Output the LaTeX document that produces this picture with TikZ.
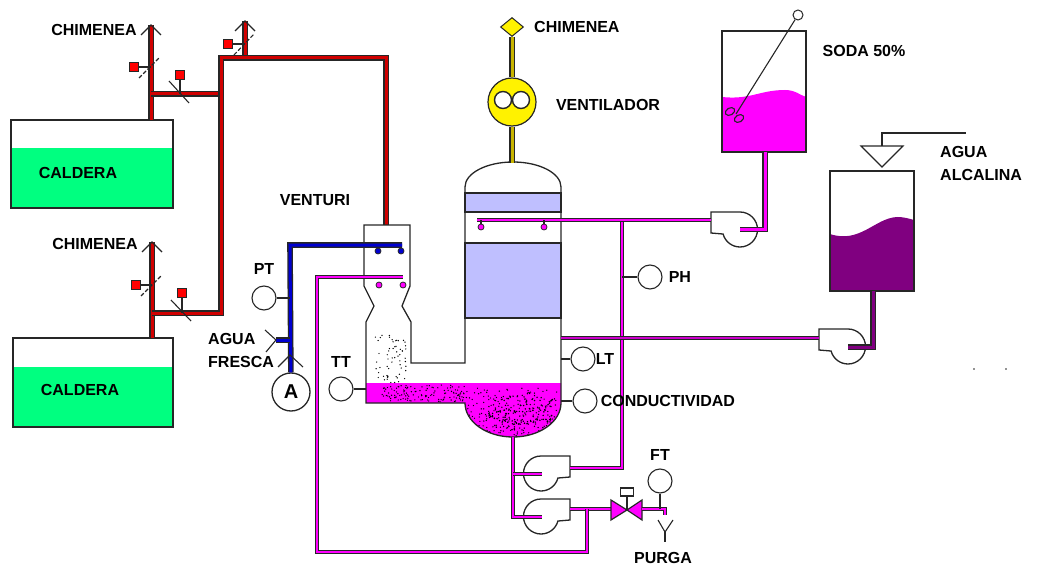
\documentclass[tikz,border=0pt]{standalone}
\usepackage{fontspec}
\setmainfont{Liberation Sans}
\usetikzlibrary{positioning,shapes.geometric}
\definecolor{linea}{HTML}{262626}
\definecolor{verde}{HTML}{00FF80}
\definecolor{lila}{HTML}{BFBFFF}
\definecolor{rosa}{HTML}{FF00FF}
\definecolor{morado}{HTML}{800080}
\definecolor{rojo}{HTML}{D00000}
\definecolor{azul}{HTML}{0000D0}
\definecolor{oliva}{HTML}{C8B400}
\tikzset{
  tag/.style={font=\bfseries\fontsize{16}{23}\selectfont, inner sep=0pt, align=left},
  vessel/.style={draw=linea, line width=1.3pt},
  thinline/.style={draw=linea, line width=1.1pt},
  instr/.style={circle, draw=linea, line width=1.1pt, fill=white, minimum size=24pt, inner sep=0pt},
  pipe/.style={draw=linea, line width=1.3pt, double=#1, double distance=3pt},
  thinpipe/.style={draw=linea, line width=1.3pt, double=#1, double distance=1.8pt},
  actuator/.style={rectangle, draw=linea, line width=1.2pt, fill=red, minimum size=9pt, inner sep=0pt},
  nozzle/.style={circle, draw=linea, line width=.8pt, fill=#1, minimum size=6pt, inner sep=0pt},
  pump/.pic={
    \draw[vessel, fill=white] (-29,-17.5) -- (0,-17.5) arc[start angle=-90, end angle=165, radius=17.5] -- (-29,3.5) -- cycle;
    \coordinate (-eje) at (0,0);
    \coordinate (-boca) at (-29,-9);
  },
}

\begin{document}
\begin{tikzpicture}[x=1pt, y=-1pt]
  \useasboundingbox (0,0) rectangle (1037,567);

  % calderas
  \fill[verde] (11,148) rectangle (173,208);
  \fill[verde] (13,367) rectangle (173,427);
  \node[vessel, minimum width=162pt, minimum height=88pt, inner sep=0pt] (caldera1) at (92,164) {};
  \node[vessel, minimum width=160pt, minimum height=89pt, inner sep=0pt] (caldera2) at (93,382.5) {};
  \node[tag] (caldtext1) at (78,173) {CALDERA};
  \node[tag] (caldtext2) at (80,390) {CALDERA};

  % humos
  \coordinate (salida1) at (151,120);
  \coordinate (salida2) at (152,338);
  \coordinate (tope1) at (151,25);
  \coordinate (tope2) at (152,242);
  \coordinate (tope3) at (245,21);
  \coordinate (codo1) at (221,94);
  \coordinate (codo2) at (221,313);
  \coordinate (codo3) at (221,58);
  \coordinate (codo4) at (386,58);
  \coordinate (entrada) at (386,225);
  \path[pipe=rojo] (salida1) -- (tope1);
  \path[pipe=rojo] (salida2) -- (tope2);
  \path[pipe=rojo] (codo3 -| tope3) -- (tope3);
  \path[pipe=rojo] (salida1 |- codo1) -- (codo1);
  \path[pipe=rojo] (salida2 |- codo2) -- (codo2) -- (codo3) -- (codo4) -- (entrada);
  \draw[thinline] ([xshift=-10pt, yshift=-10pt]tope1) -- (tope1) -- ([xshift=10pt, yshift=-10pt]tope1);
  \draw[thinline] ([xshift=-10pt, yshift=-10pt]tope2) -- (tope2) -- ([xshift=10pt, yshift=-10pt]tope2);
  \draw[thinline] ([xshift=-10pt, yshift=-10pt]tope3) -- (tope3) -- ([xshift=10pt, yshift=-10pt]tope3);

  % compuertas
  \node[actuator] (comp1) at (134,67) {};
  \node[actuator] (comp2) at (180,75) {};
  \node[actuator] (comp3) at (228,44) {};
  \node[actuator] (comp4) at (136,285) {};
  \node[actuator] (comp5) at (182,293) {};
  \draw[thinline] (comp1) -- (comp1 -| tope1);
  \draw[thinline] (comp2) -- (comp2 |- codo1);
  \draw[thinline] (comp3) -- (comp3 -| tope3);
  \draw[thinline] (comp4) -- (comp4 -| tope2);
  \draw[thinline] (comp5) -- (comp5 |- codo2);
  \draw[thinline, dash pattern=on 4pt off 2pt] (139,78) -- (160,57);
  \draw[thinline] (169,81) -- (189,103);
  \draw[thinline, dash pattern=on 4pt off 2pt] (234,55) -- (254,34);
  \draw[thinline, dash pattern=on 4pt off 2pt] (141,296) -- (161,276);
  \draw[thinline] (171,300) -- (191,321);

  % liquido y particulas
  \fill[rosa] (366,383) -- (561,383) -- (561,403) arc[start angle=0, end angle=180, x radius=48, y radius=34] -- (366,403) -- cycle;
  \begin{scope}
    \clip (366,383) -- (561,383) -- (561,403) arc[start angle=0, end angle=180, x radius=48, y radius=34] -- (366,403) -- cycle;
    \pgfmathsetseed{2903}
    \foreach \i in {1,...,130} {
      \pgfmathsetmacro\px{382+85*rnd}
      \pgfmathsetmacro\py{385+17*rnd}
      \fill[black] (\px,\py) circle (.7);
    }
    \foreach \i in {1,...,230} {
      \pgfmathsetmacro\px{467+92*rnd}
      \pgfmathsetmacro\py{388+48*rnd}
      \fill[black] (\px,\py) circle (.7);
    }
    \foreach \i in {1,...,110} {
      \pgfmathsetmacro\px{488+66*rnd}
      \pgfmathsetmacro\py{396+32*rnd}
      \fill[black] (\px,\py) circle (.8);
    }
  \end{scope}
  \foreach \i in {1,...,60} {
    \pgfmathsetmacro\px{375+31*rnd}
    \pgfmathsetmacro\py{335+48*rnd}
    \fill[black] (\px,\py) circle (.7);
  }

  % lavador
  \path[vessel, fill=lila] (465,193) rectangle (561,212);
  \path[vessel, fill=lila] (465,243) rectangle (561,318);
  \draw[vessel] (364,286) -- (364,225) -- (410,225) -- (410,286) -- (402,306) -- (411,322) -- (411,363) -- (465,363) -- (465,187)
    arc[start angle=180, end angle=360, x radius=48, y radius=25] -- (561,403)
    arc[start angle=0, end angle=180, x radius=48, y radius=34] -- (366,403) -- (366,322) -- (374,306) -- cycle;

  % ventilador
  \node[diamond, draw=linea, line width=1pt, fill=yellow, minimum width=23pt, minimum height=19pt, inner sep=0pt] (chimenea) at (512,27) {};
  \node[circle, draw=linea, line width=1.2pt, fill=yellow, minimum size=48pt, inner sep=0pt] (ventilador) at (512,102) {};
  \coordinate (cuello) at (512,163);
  \path[pipe=oliva] (cuello) -- (ventilador);
  \path[pipe=oliva] (ventilador) -- (chimenea);
  \node[circle, draw=linea, line width=1.4pt, fill=white, minimum size=17pt, inner sep=0pt] (aspa1) at (503,100) {};
  \node[circle, draw=linea, line width=1.4pt, fill=white, minimum size=17pt, inner sep=0pt] (aspa2) at (521,100) {};

  % tanques
  \fill[rosa] (722,97) .. controls (750,100) and (760,90) .. (785,90) .. controls (795,90) and (800,95) .. (806,97) -- (806,152) -- (722,152) -- cycle;
  \fill[morado] (830,234) .. controls (860,244) and (875,218) .. (897,217) .. controls (905,217) and (910,219) .. (914,220) -- (914,291) -- (830,291) -- cycle;
  \node[vessel, minimum width=84pt, minimum height=121pt, inner sep=0pt] (soda) at (764,91.5) {};
  \node[vessel, minimum width=84pt, minimum height=120pt, inner sep=0pt] (alcalina) at (872,231) {};
  \coordinate (embudoizq) at (861,146);
  \coordinate (embudoder) at (903,146);
  \coordinate (embudopie) at (882,167);
  \draw[thinline] (embudoizq) -- (embudoder) -- (embudopie) -- cycle;
  \coordinate (codoagua) at (882,133);
  \coordinate (finagua) at (966,133);
  \draw[thinline] (embudopie |- embudoizq) -- (codoagua) -- (finagua);

  % agitador
  \node[circle, draw=linea, line width=1pt, minimum size=10pt, inner sep=0pt] (motor) at (798,15) {};
  \coordinate (eje) at (736,114);
  \draw[thinline] (motor) -- (eje);
  \draw[thinline, rotate around={30:(730,111.5)}] (730,111.5) ellipse (5 and 3.5);
  \draw[thinline, rotate around={30:(739,118.5)}] (739,118.5) ellipse (5 and 3.5);

  % bombas
  \pic (bombasoda) at (740,229.5) {pump};
  \pic (bombaalc) at (848,346.5) {pump};
  \pic[xscale=-1] (bomba1) at (541,473.5) {pump};
  \pic[xscale=-1] (bomba2) at (541,516.5) {pump};

  % lineas de proceso
  \coordinate (rociador) at (477,220);
  \coordinate (ramal) at (622,220);
  \coordinate (ramalbajo) at (622,468);
  \coordinate (fondo) at (513,437);
  \coordinate (codob1) at (513,474);
  \coordinate (codob2) at (513,517);
  \coordinate (finb1) at (542,474);
  \coordinate (finb2) at (542,517);
  \coordinate (retorno) at (587,509);
  \coordinate (retbajo) at (587,552);
  \coordinate (retizq) at (317,552);
  \coordinate (retalto) at (317,277);
  \coordinate (retfin) at (403,277);
  \coordinate (paredder) at (561,338);
  \coordinate (alcsale) at (873,291);
  \coordinate (alccodo) at (873,347);
  \coordinate (sodasale) at (765,152);
  \coordinate (sodacodo) at (765,229.5);
  \coordinate (valizq) at (611,509);
  \coordinate (valder) at (642,509);
  \path[thinpipe=rosa] (bomba1-boca |- ramalbajo) -- (ramalbajo) -- (ramal);
  \path[pipe=morado] (alcsale) -- (alccodo) -- (bombaalc-eje |- alccodo);
  \path[thinpipe=rosa!60!morado] (paredder) -- (bombaalc-boca |- paredder);
  \path[pipe=rosa] (sodasale) -- (sodacodo) -- (bombasoda-eje);
  \path[thinpipe=rosa] (rociador) -- (bombasoda-boca |- rociador);
  \path[thinpipe=rosa] (fondo) -- (codob2) -- (finb2);
  \path[thinpipe=rosa] (codob1) -- (finb1);
  \path[thinpipe=rosa] (bomba2-boca |- retorno) -- (valizq);
  \path[thinpipe=rosa] (retorno) -- (retbajo) -- (retizq) -- (retalto) -- (retfin);

  % boquillas
  \node[nozzle=rosa] (boq1) at (481,227) {};
  \node[nozzle=rosa] (boq2) at (544,227) {};
  \node[nozzle=rosa] (boq3) at (379,285) {};
  \node[nozzle=rosa] (boq4) at (403,285) {};
  \node[nozzle=azul] (boq5) at (378,251) {};
  \node[nozzle=azul] (boq6) at (401,251) {};
  \draw[thinline] (boq1) -- (boq1 |- rociador);
  \draw[thinline] (boq2) -- (boq2 |- rociador);

  % agua fresca
  \node[circle, vessel, minimum size=38pt, inner sep=0pt, font=\bfseries\fontsize{20}{20}\selectfont] (amper) at (291,392) {A};
  \coordinate (aguacodo) at (290,245);
  \coordinate (aguafin) at (402,245);
  \coordinate (aguaent) at (276,340);
  \path[pipe=azul] (amper) -- (aguacodo) -- (aguafin);
  \path[pipe=azul] (aguaent) -- (aguaent -| aguacodo);
  \draw[thinline] ([xshift=-10pt, yshift=-12pt]aguaent) -- (aguaent) -- ([xshift=-11pt, yshift=10pt]aguaent);
  \draw[thinline] (278,367) -- (290,355) -- (303,367);

  % instrumentos
  \node[instr] (pt) at (264,298) {};
  \node[instr] (tt) at (341,389) {};
  \node[instr] (lt) at (583,359) {};
  \node[instr] (cond) at (585,401) {};
  \node[instr] (ph) at (650,277) {};
  \node[instr] (ft) at (660,481) {};
  \draw[thinline] (pt) -- (pt -| aguacodo);
  \draw[thinline] (tt) -- (366,389);
  \draw[thinline] (lt) -- (561,359);
  \draw[thinline] (cond) -- (561,401);
  \draw[thinline] (ph) -- (ph -| ramal);

  % purga
  \coordinate (valvula) at (627,510);
  \filldraw[fill=rosa, draw=linea, line width=1.2pt] (valvula) -- (611,500) -- (611,520) -- cycle;
  \filldraw[fill=rosa, draw=linea, line width=1.2pt] (valvula) -- (642,500) -- (642,520) -- cycle;
  \node[rectangle, draw=linea, line width=1.1pt, fill=white, minimum width=13pt, minimum height=8pt, inner sep=0pt] (actval) at (627,492) {};
  \draw[thinline] (actval) -- (valvula);
  \coordinate (purgacodo) at (665,509);
  \coordinate (purgafin) at (665,515);
  \path[thinpipe=rosa] (valder) -- (purgacodo) -- (purgafin);
  \draw[thinline] (ft) -- (ft |- purgacodo);
  \draw[thinline] (658,520) -- (665,532) -- (673,520);
  \draw[thinline] (665,532) -- (665,542);

  % motas
  \fill[linea] (974,369) circle (.8);
  \fill[linea] (1006,369) circle (.8);

  % textos
  \node[tag] (txt1) at (94,30) {CHIMENEA};
  \node[tag] (txt2) at (95,244) {CHIMENEA};
  \node[tag, right=10pt of chimenea] (txt3) {CHIMENEA};
  \node[tag] (txt4) at (608,105) {VENTILADOR};
  \node[tag] (txt5) at (315,200) {VENTURI};
  \node[tag] (txt6) at (864,51) {SODA 50\%};
  \node[tag, anchor=west] (txt7) at (940,163.5) {AGUA\\ALCALINA};
  \node[tag, anchor=west] (txt8) at (208,350.5) {AGUA\\FRESCA};
  \node[tag, above=11pt of pt] (txt9) {PT};
  \node[tag, above=9pt of tt] (txt10) {TT};
  \node[tag, right=0pt of lt] (txt11) {LT};
  \node[tag, right=3pt of cond] (txt12) {CONDUCTIVIDAD};
  \node[tag, right=6pt of ph] (txt13) {PH};
  \node[tag, above=8pt of ft] (txt14) {FT};
  \node[tag] (txt15) at (663,558) {PURGA};
\end{tikzpicture}
\end{document}
